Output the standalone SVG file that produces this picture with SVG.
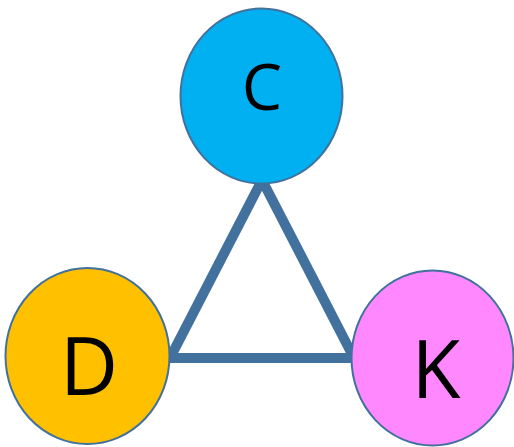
<svg xmlns="http://www.w3.org/2000/svg" width="514" height="447" viewBox="0 0 514 447">
  <style>
    .edge { stroke: #41719C; stroke-width: 10; fill: none; stroke-linejoin: miter; }
    .node { stroke: #41719C; stroke-width: 2; }
    .label { font-family: "Open Sans", "Liberation Sans", sans-serif; fill: #000; text-anchor: middle; }
  </style>
  <rect width="514" height="447" fill="#fff"/>
  <g id="connectors">
    <line class="edge" x1="262" y1="180" x2="170" y2="358"/>
    <line class="edge" x1="262" y1="180" x2="354" y2="358"/>
    <line class="edge" x1="168" y1="358" x2="356" y2="358"/>
  </g>
  <g id="node-c">
    <ellipse class="node" cx="261.5" cy="96" rx="81" ry="87.5" fill="#00B0F0"/>
    <text class="label" x="262" y="110" font-size="64">C</text>
  </g>
  <g id="node-d">
    <ellipse class="node" cx="87.5" cy="356" rx="82" ry="88" fill="#FFC000"/>
    <text class="label" x="89" y="395" font-size="80">D</text>
  </g>
  <g id="node-k">
    <ellipse class="node" cx="432.5" cy="358" rx="81" ry="87.5" fill="#FF88FF"/>
    <text class="label" x="436" y="398" font-size="80">K</text>
  </g>
</svg>
